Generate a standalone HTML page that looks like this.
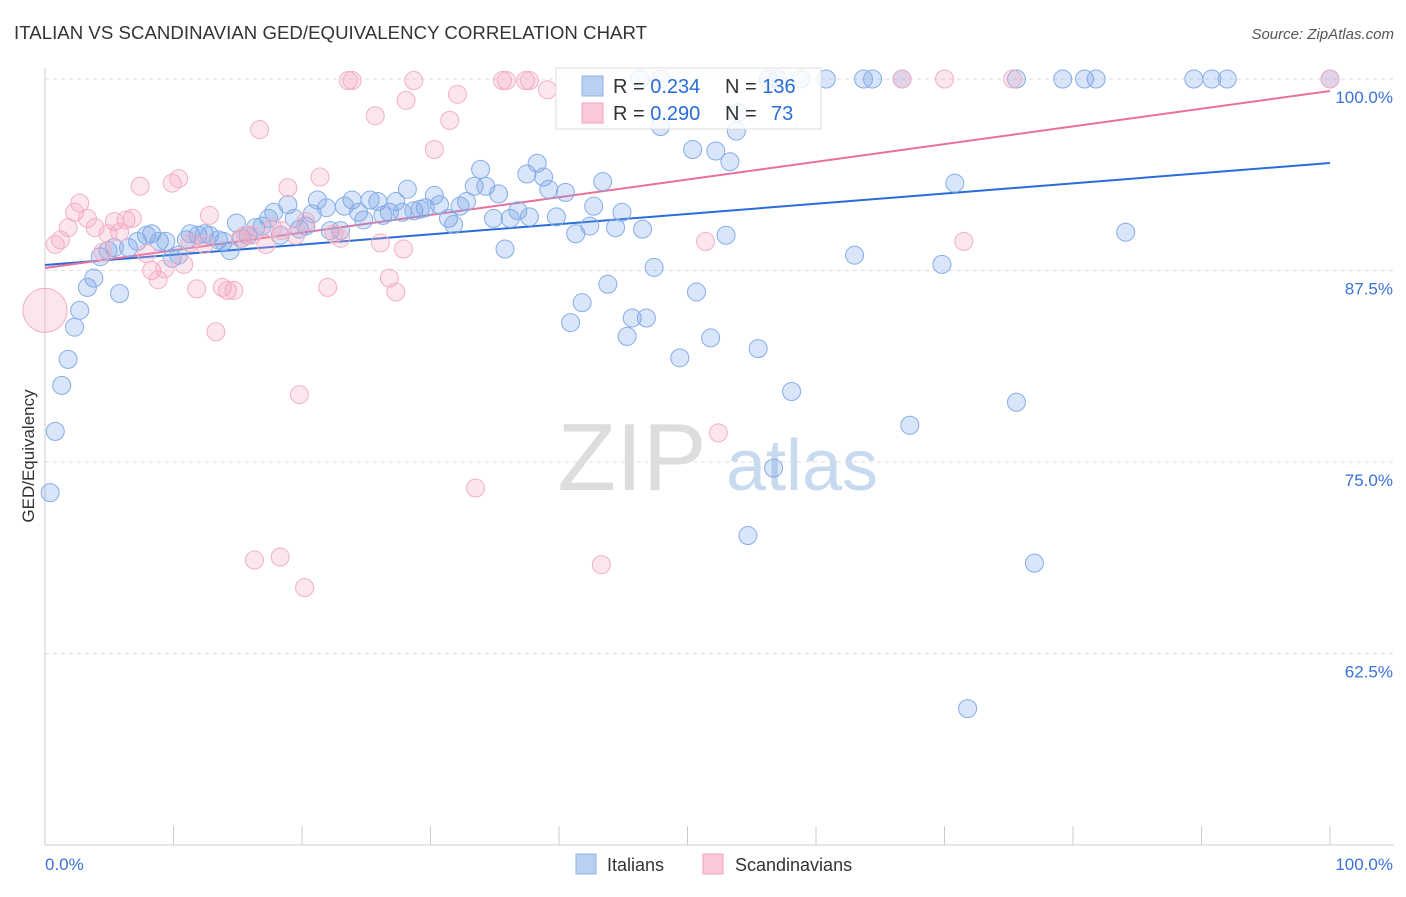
<!DOCTYPE html>
<html><head><meta charset="utf-8"><style>
body{margin:0;background:#fff;font-family:"Liberation Sans",sans-serif;}
svg text{font-family:"Liberation Sans",sans-serif;}
</style></head><body>
<svg id="chart" width="1406" height="892" viewBox="0 0 1406 892">
<text x="14" y="39" font-size="18.6" fill="#333" textLength="633">ITALIAN VS SCANDINAVIAN GED/EQUIVALENCY CORRELATION CHART</text>
<text x="1394" y="39" font-size="15" fill="#555" font-style="italic" text-anchor="end">Source: ZipAtlas.com</text>
<g>
<text x="632" y="490" font-size="96" fill="#ddd" font-family="Liberation Serif" text-anchor="middle">ZIP</text>
<text x="802" y="490" font-size="72" fill="#c8daf0" text-anchor="middle">atlas</text>
</g>
<g id="grid"></g>
<g id="axes"></g>
<g id="trends"></g>
<g id="points"></g>
<text transform="translate(34,456) rotate(-90)" font-size="17" fill="#333" text-anchor="middle">GED/Equivalency</text>
<g>
<rect x="556" y="68" width="265" height="61" fill="rgba(255,255,255,0.8)" stroke="#ddd"/>
<rect x="582" y="76" width="21" height="20" fill="#b9d0f3" stroke="#8fb2e8"/>
<rect x="582" y="103" width="21" height="20" fill="#fac8d6" stroke="#f0a0b8"/>
<text x="613" y="93" font-size="20" fill="#333">R = <tspan fill="#2a6dd9">0.234</tspan></text>
<text x="725" y="93" font-size="20" fill="#333">N = <tspan fill="#2a6dd9">136</tspan></text>
<text x="613" y="120" font-size="20" fill="#333">R = <tspan fill="#2a6dd9">0.290</tspan></text>
<text x="725" y="120" font-size="20" fill="#333">N = <tspan fill="#2a6dd9" x="771">73</tspan></text>
</g>
<g>
<rect x="576" y="854" width="20" height="20" fill="#b9d0f3" stroke="#8fb2e8"/>
<text x="607" y="871" font-size="18" fill="#333">Italians</text>
<rect x="703" y="854" width="20" height="20" fill="#fac8d6" stroke="#f0a0b8"/>
<text x="735" y="871" font-size="18" fill="#333">Scandinavians</text>
</g>
</svg>
<script>
const yTicks=[100,87.5,75,62.5];
const yTickLabels=["100.0%","87.5%","75.0%","62.5%"];
const xTickLabels=["0.0%","100.0%"];
const blueX=[0.4,0.8,1.3,1.8,2.3,2.7,3.3,3.8,4.3,4.9,5.4,5.8,6.5,7.2,7.9,8.3,8.9,9.4,9.9,10.4,11.0,11.3,11.9,12.4,12.8,13.5,13.9,14.4,14.9,15.3,15.8,16.4,16.9,17.4,17.8,18.3,18.9,19.4,19.8,20.3,20.8,21.2,21.9,22.2,23.0,23.3,23.9,24.4,24.8,25.3,25.9,26.3,26.8,27.3,27.8,28.2,28.7,29.2,29.6,30.3,30.7,31.4,31.8,32.3,32.8,33.4,33.9,34.3,34.9,35.3,35.8,36.2,36.8,37.5,37.7,38.3,38.8,39.2,39.8,40.5,40.9,41.3,41.8,42.4,42.7,43.4,43.8,44.4,44.9,45.3,45.7,46.5,46.8,47.4,47.9,49.4,50.4,50.7,51.8,52.2,53.0,53.3,53.8,53.9,54.7,55.5,56.7,58.1,63.0,67.3,69.8,70.8,71.8,75.6,77.0,84.1,46.3,47.9,56.3,57.0,58.8,60.8,63.7,64.4,66.7,75.6,79.2,80.9,81.8,89.4,90.8,92.0,100];
const blueY=[73.0,77.0,80.0,81.7,83.8,84.9,86.4,87.0,88.4,88.8,89.0,86.0,89.0,89.4,89.8,89.9,89.4,89.4,88.3,88.5,89.5,89.9,89.8,89.9,89.8,89.5,89.4,88.8,90.6,89.6,89.8,90.3,90.4,90.9,91.3,89.8,91.8,90.9,90.2,90.4,91.2,92.1,91.6,90.1,90.1,91.7,92.1,91.3,90.8,92.1,92.0,91.1,91.3,92.0,91.3,92.8,91.4,91.5,91.6,92.4,91.8,90.9,90.5,91.7,92.0,93.0,94.1,93.0,90.9,92.5,88.9,90.9,91.4,93.8,91.0,94.5,93.6,92.8,91.0,92.6,84.1,89.9,85.4,90.4,91.7,93.3,86.6,90.3,91.3,83.2,84.4,90.2,84.4,87.7,96.9,81.8,95.4,86.1,83.1,95.3,89.8,94.6,96.6,97.8,70.2,82.4,74.6,79.6,88.5,77.4,87.9,93.2,58.9,78.9,68.4,90.0,100,100,100,100,100,100,100,100,100,100,100,100,100,100,100,100,100];
const pinkX=[0,0.8,1.2,1.8,2.3,2.7,3.3,3.9,4.5,4.9,5.4,5.8,6.3,6.8,7.4,7.9,8.3,8.8,9.3,9.9,10.4,10.8,11.3,11.8,12.4,12.8,13.3,13.8,14.2,14.7,15.2,15.6,16.1,16.7,17.2,17.7,18.4,18.9,19.5,19.8,20.3,21.4,22.0,22.5,23.0,23.6,23.9,25.7,26.1,26.8,27.3,27.9,28.1,28.7,30.3,31.5,32.1,33.5,35.6,35.9,37.4,37.7,39.1,43.3,51.4,52.4,71.5,16.3,18.3,20.2,66.7,70.0,75.3,100];
const pinkY=[84.9,89.2,89.5,90.3,91.3,91.9,90.9,90.3,88.7,89.9,90.7,90.0,90.8,90.9,93.0,88.6,87.5,86.9,87.6,93.2,93.5,87.9,89.3,86.3,89.2,91.1,83.5,86.4,86.2,86.2,89.6,89.8,89.8,96.7,89.2,90.3,90.1,92.9,89.8,79.4,90.7,93.6,86.4,89.9,89.6,99.9,99.9,97.6,89.3,87.0,86.1,88.9,98.6,99.9,95.4,97.3,99.0,73.3,99.9,99.9,99.9,99.9,99.3,68.3,89.4,76.9,89.4,68.6,68.8,66.8,100,100,100,100];
const pinkSize=[22];
const blueTrend=[87.86,94.52];
const pinkTrend=[87.66,99.22];

const NS="http://www.w3.org/2000/svg";
const X0=45,X1=1330,YTOP=79,PXPER=15.32;
function sx(v){return X0+(X1-X0)*v/100;}
function sy(v){return YTOP+(100-v)*PXPER;}
function mk(tag,attrs,parent){const e=document.createElementNS(NS,tag);for(const k in attrs)e.setAttribute(k,attrs[k]);parent.appendChild(e);return e;}
const grid=document.getElementById('grid'),axes=document.getElementById('axes');
yTicks.forEach((t,i)=>{
  const l=mk('line',{x1:X0,x2:1394,y1:sy(t),y2:sy(t),stroke:'#ddd','stroke-dasharray':'4,4'},grid);
  
  
  const tx=mk('text',{x:1393,y:sy(t)+24,'font-size':17,fill:'#3a72d8','text-anchor':'end'},axes);
  tx.textContent=yTickLabels[i];
  
  
});
const yl=mk('line',{x1:X0,x2:X0,y1:68,y2:845,stroke:'#ccc'},axes);


const xl=mk('line',{x1:X0,x2:1394,y1:845,y2:845,stroke:'#ccc'},axes);


for(let i=0;i<=10;i++){
  const t=mk('line',{x1:sx(i*10),x2:sx(i*10),y1:826,y2:845,stroke:'#ccc'},axes);
  
  
}
[[0,'start',45],[100,'end',1393]].forEach((d,i)=>{
  const tx=mk('text',{x:d[2],y:870,'font-size':17,fill:'#3a72d8','text-anchor':d[1]},axes);
  tx.textContent=xTickLabels[i];
  
  
});
const pts=document.getElementById('points');
blueX.forEach((x,i)=>{
  const c=mk('circle',{cx:sx(x),cy:sy(blueY[i]),r:9,fill:'rgba(120,160,230,0.28)',stroke:'#86ade8','stroke-width':1},pts);
  
  
});
pinkX.forEach((x,i)=>{
  const c=mk('circle',{cx:sx(x),cy:sy(pinkY[i]),r:i===0?pinkSize[0]:9,fill:'rgba(245,165,190,0.28)',stroke:'#f2b0c3','stroke-width':1},pts);
  
  
});
const tr=document.getElementById('trends');
const bl=mk('line',{x1:sx(0),y1:sy(blueTrend[0]),x2:sx(100),y2:sy(blueTrend[1]),stroke:'#2a6dd9','stroke-width':2},tr);


const pl=mk('line',{x1:sx(0),y1:sy(pinkTrend[0]),x2:sx(100),y2:sy(pinkTrend[1]),stroke:'#e8709a','stroke-width':2},tr);


</script>
</body></html>
